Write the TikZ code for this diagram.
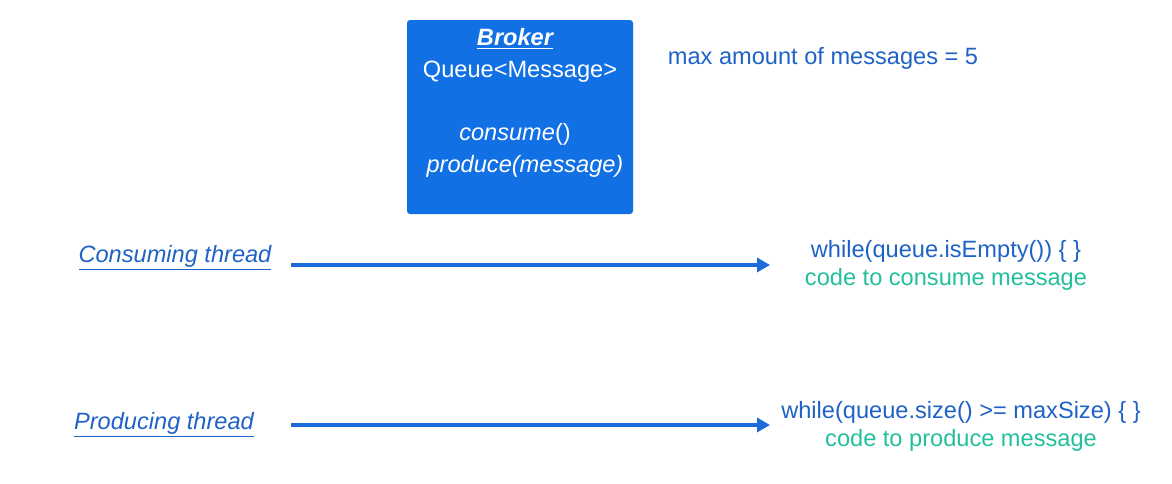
\documentclass[tikz,border=0pt]{standalone}
\usepackage{fontspec}
\setmainfont{Liberation Sans}
\usetikzlibrary{positioning}
\usetikzlibrary{arrows.meta}
\definecolor{boxblue}{HTML}{1170E3}
\definecolor{textblue}{HTML}{1F62C6}
\definecolor{codegreen}{HTML}{22BF9C}
\definecolor{arrowblue}{HTML}{1B6BDB}

\begin{document}
\begin{tikzpicture}[
  x=0.5pt, y=-0.5pt,
  node distance=3pt,
  every node/.style={inner sep=0pt,font=\fontsize{11.8}{16}\selectfont},
  brokerbox/.style={fill=boxblue,rounded corners=1.5pt,minimum width=113pt,minimum height=97pt},
  boxtext/.style={text=white},
  info/.style={text=textblue},
  thread/.style={text=textblue,font=\fontsize{11.8}{16}\selectfont\itshape},
  code/.style={text=codegreen},
  flow/.style={draw=arrowblue,line width=2.2pt,-{Triangle[length=6.5pt,width=7pt]}}
]
\useasboundingbox (0,0) rectangle (1172,483);

% broker
\node[brokerbox] (broker) at (520,117) {};
\node[boxtext,font=\fontsize{11.8}{16}\selectfont\bfseries\itshape] (title) at (515,39) {\underline{Broker}};
\node[boxtext] (queue) at (520,72) {Queue<Message>};
\node[boxtext] (consume) at (515,134) {\textit{consume}()};
\node[boxtext,font=\fontsize{11.8}{16}\selectfont\itshape] (produce) at (525,166) {produce(message)};
\node[info] (max) at (823,58) {max amount of messages = 5};

% threads
\node[thread] (cthread) at (175,258) {\underline{Consuming thread}};
\node[thread] (pthread) at (164,425) {\underline{Producing thread}};

\coordinate (cstart) at (291,265);
\coordinate (cend) at (770,265);
\coordinate (pstart) at (291,425);
\coordinate (pend) at (770,425);

\node[info] (cwait) at (946,251) {while(queue.isEmpty()) \{ \}};
\node[code,below=of cwait] (ccode) {code to consume message};
\node[info] (pwait) at (961,412) {while(queue.size() >= maxSize) \{ \}};
\node[code,below=of pwait] (pcode) {code to produce message};

\draw[flow] (cstart) -- (cend);
\draw[flow] (pstart) -- (pend);

\end{tikzpicture}
\end{document}
